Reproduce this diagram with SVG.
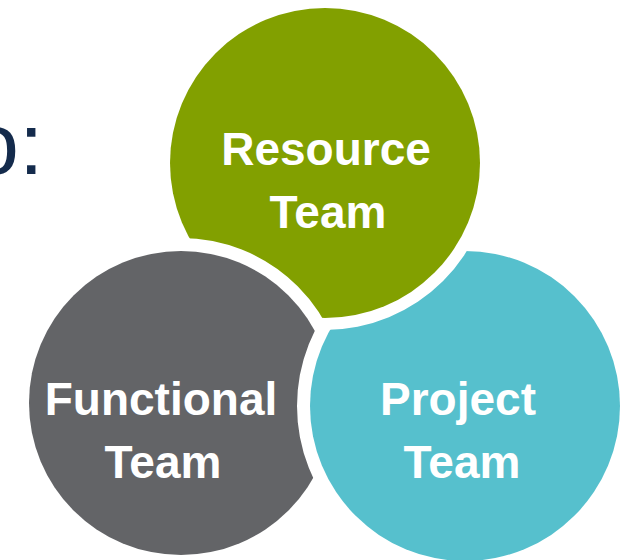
<svg xmlns="http://www.w3.org/2000/svg" xmlns:xlink="http://www.w3.org/1999/xlink" width="626" height="560" viewBox="0 0 626 560">
  <style>
    .disk { stroke: #ffffff; stroke-width: 26; paint-order: stroke; }
    .label { font-family: "Liberation Sans", Arial, sans-serif; font-weight: bold; font-size: 46px; fill: #ffffff; text-anchor: middle; }
    .title { font-family: "Liberation Sans", Arial, sans-serif; font-size: 88px; fill: #142B4C; }
  </style>
  <defs>
    <clipPath id="outsideGreen">
      <path clip-rule="evenodd" d="M-10,-10H636V570H-10Z M158,163 a167,167 0 1,0 334,0 a167,167 0 1,0 -334,0 Z"/>
    </clipPath>
  </defs>
  <rect width="626" height="560" fill="#ffffff"/>
  <text class="title" x="-30" y="174">o:</text>
  <g id="connectors"></g>
  <g id="resource-team">
    <circle class="disk" cx="325" cy="163" r="155" fill="#82A000"/>
    <text class="label" x="326" y="165">Resource</text>
    <text class="label" x="328" y="228">Team</text>
  </g>
  <g id="functional-team">
    <circle class="disk" cx="181" cy="403" r="152" fill="#636467"/>
    <text class="label" x="161" y="415">Functional</text>
    <text class="label" x="163" y="478">Team</text>
  </g>
  <g id="project-team">
    <circle class="disk" cx="465" cy="406" r="155" fill="#56C0CD" clip-path="url(#outsideGreen)"/>
    <text class="label" x="458" y="415">Project</text>
    <text class="label" x="462" y="478">Team</text>
  </g>
</svg>
